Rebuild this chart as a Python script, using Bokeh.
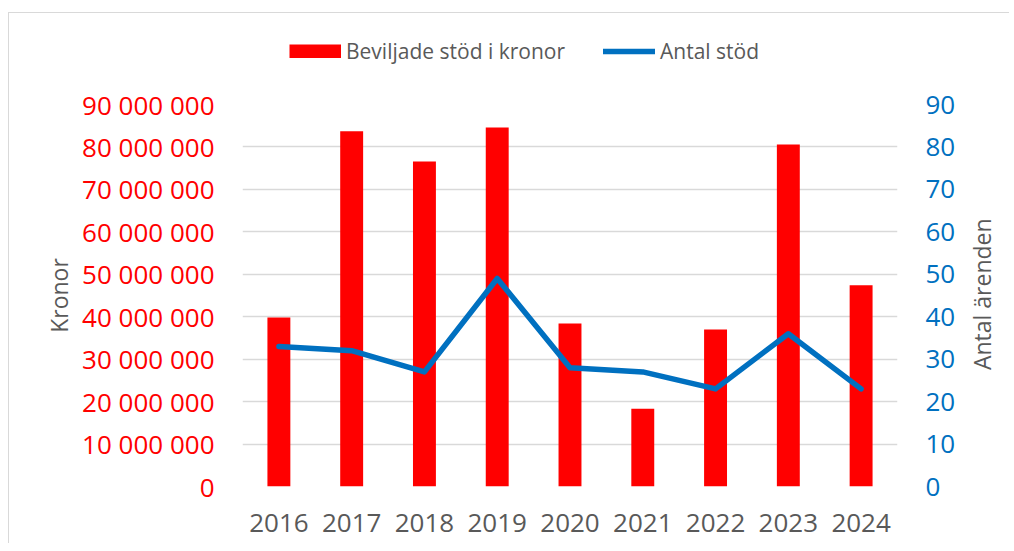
import math
from bokeh.plotting import figure
from bokeh.models import (Range1d, LinearAxis, FixedTicker, Legend, LegendItem,
                          FactorRange, Column, Row)
from bokeh.core.properties import value
from bokeh.embed import file_html
from bokeh.resources import INLINE

# ---- data ----
years = ["2016", "2017", "2018", "2019", "2020", "2021", "2022", "2023", "2024"]
kronor = [39_800_000, 83_700_000, 76_600_000, 84_600_000, 38_400_000,
          18_300_000, 37_000_000, 80_600_000, 47_400_000]
antal = [33, 32, 27, 49, 28, 27, 23, 36, 23]
left_ticks = [0, 10_000_000, 20_000_000, 30_000_000, 40_000_000, 50_000_000,
              60_000_000, 70_000_000, 80_000_000, 90_000_000]
left_tick_labels = ["0", "10 000 000", "20 000 000", "30 000 000", "40 000 000",
                    "50 000 000", "60 000 000", "70 000 000", "80 000 000", "90 000 000"]
right_ticks = [0, 10, 20, 30, 40, 50, 60, 70, 80, 90]
legend_labels = ["Beviljade stöd i kronor", "Antal stöd"]
left_title = "Kronor"
right_title = "Antal ärenden"

FONT = "Open Sans"
GRAY = "#595959"
RED = "#FF0000"
BLUE = "#0070C0"


def blank(fig):
    fig.outline_line_color = None
    fig.background_fill_color = "white"
    fig.border_fill_color = "white"
    fig.xaxis.visible = False
    fig.yaxis.visible = False
    fig.xgrid.visible = False
    fig.ygrid.visible = False


# ---- legend strip (top) ----
LEG_W, LEG_H = 1000, 67
leg = figure(width=LEG_W, height=LEG_H, x_range=Range1d(0, 1), y_range=Range1d(0, 1),
             output_backend="svg", toolbar_location=None,
             min_border=0, min_border_left=0, min_border_right=0,
             min_border_top=0, min_border_bottom=0)
blank(leg)
# legend swatches: renderers kept off-screen (outside the strip's ranges)
r_bar = leg.line(x=[-3, -2], y=[-3, -3], line_color=RED, line_width=14, line_cap="butt")
r_line = leg.line(x=[-3, -2], y=[-3, -3], line_color=BLUE, line_width=5.5,
                  line_cap="round")
legend = Legend(items=[LegendItem(label=legend_labels[0], renderers=[r_bar]),
                       LegendItem(label=legend_labels[1], renderers=[r_line])],
                orientation="horizontal", location=(280, 15),
                glyph_width=52, glyph_height=14, label_standoff=5, spacing=38,
                padding=0, margin=0, border_line_color=None,
                background_fill_alpha=0,
                label_text_font=FONT, label_text_font_size="21px",
                label_text_color=GRAY)
leg.add_layout(legend, "center")

# ---- main chart ----
MAIN_W, MAIN_H = 950, 463
p = figure(width=MAIN_W, height=MAIN_H,
           x_range=FactorRange(*years, range_padding=0),
           y_range=Range1d(0, 90_000_000),
           output_backend="svg", toolbar_location=None,
           min_border_left=233, min_border_right=62,
           min_border_top=24, min_border_bottom=57)
p.extra_y_ranges = {"right": Range1d(0, 90)}
p.outline_line_color = None
p.background_fill_color = "white"
p.border_fill_color = "white"

p.xgrid.grid_line_color = None
p.ygrid.grid_line_color = "#d9d9d9"
p.ygrid.grid_line_width = 1.5
p.ygrid.ticker = FixedTicker(ticks=left_ticks)

bars = p.vbar(x=years, top=kronor, width=0.315, fill_color=RED, line_color=None)
line = p.line(x=years, y=antal, y_range_name="right", line_color=BLUE,
              line_width=5.5, line_cap="round", line_join="round")

xa = p.xaxis[0]
xa.axis_line_color = None
xa.major_tick_line_color = None
xa.major_tick_out = 0
xa.major_label_standoff = 27
xa.major_label_text_font = FONT
xa.major_label_text_font_size = "26px"
xa.major_label_text_color = GRAY

ya = p.yaxis[0]
ya.ticker = FixedTicker(ticks=left_ticks)
ya.major_label_overrides = dict(zip(left_ticks, left_tick_labels))
ya.axis_line_color = None
ya.major_tick_line_color = None
ya.minor_tick_line_color = None
ya.major_tick_out = 0
ya.major_label_standoff = 28
ya.major_label_text_font = FONT
ya.major_label_text_font_size = "26px"
ya.major_label_text_color = RED
ya.axis_label = left_title
ya.axis_label_text_font = FONT
ya.axis_label_text_font_size = "23px"
ya.axis_label_text_font_style = "normal"
ya.axis_label_text_color = GRAY
ya.axis_label_standoff = 4

ra = LinearAxis(y_range_name="right", ticker=FixedTicker(ticks=right_ticks))
ra.axis_line_color = None
ra.major_tick_line_color = None
ra.minor_tick_line_color = None
ra.major_tick_out = 0
ra.major_label_standoff = 28
ra.major_label_text_font = FONT
ra.major_label_text_font_size = "26px"
ra.major_label_text_color = BLUE
p.add_layout(ra, "right")

# ---- right title strip ----
SIDE_W = 50
side = figure(width=SIDE_W, height=MAIN_H, x_range=Range1d(0, SIDE_W),
              y_range=Range1d(0, MAIN_H), output_backend="svg", toolbar_location=None,
              min_border=0, min_border_left=0, min_border_right=0,
              min_border_top=0, min_border_bottom=0)
blank(side)
side.text(x=[22], y=[MAIN_H - 230], text=[right_title], angle=math.pi / 2,
          text_align="center", text_baseline="middle", text_font=value(FONT),
          text_font_size="23px", text_color=GRAY)

layout = Column(children=[leg, Row(children=[p, side], spacing=0)], spacing=0)
layout.styles = {"border-left": "1px solid #d9d9d9", "border-top": "1px solid #d9d9d9",
                 "margin-top": "12px", "margin-left": "8px"}

open("out.html", "w").write(file_html(layout, INLINE))
